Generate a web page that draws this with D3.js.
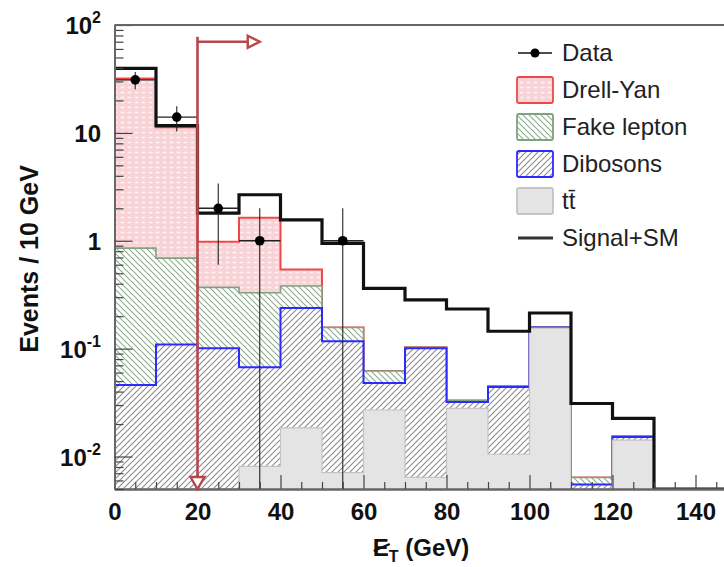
<!DOCTYPE html>
<html><head><meta charset="utf-8">
<script src="https://cdn.jsdelivr.net/npm/d3@7/dist/d3.min.js"></script>
<style>body{margin:0;background:#fff}svg{display:block}</style>
</head><body>
<svg id="chart" width="724" height="567"></svg>
<script>
// ---------------- data (events / 10 GeV) ----------------
const binLow     = [0, 10, 20, 30, 40, 50, 60, 70, 80, 90, 100, 110, 120, 130, 140];
const binWidth   = 10;
const ttbar      = [0, 0, 0, 0.0081, 0.0184, 0.0071, 0.027, 0.0064, 0.028, 0.0105, 0.155, 0, 0.0142, 0, 0];
const dibosons   = [0.046, 0.109, 0.101, 0.059, 0.22, 0.11, 0.021, 0.0946, 0.004, 0.0335, 0.002, 0.0055, 0.001, 0, 0];
const fakeLepton = [0.809, 0.581, 0.269, 0.263, 0.142, 0.04, 0.014, 0.002, 0.001, 0.001, 0.001, 0.0009, 0.0003, 0, 0];
const drellYan   = [31.1, 10.6, 0.61, 1.30, 0.16, 0, 0, 0, 0, 0, 0, 0, 0, 0, 0];
const signal     = [7.7, 0.4, 0.82, 1.04, 1.02, 0.79, 0.30, 0.18, 0.20, 0.10, 0.056, 0.0246, 0.0071, 0, 0];
const dataX      = [5, 15, 25, 35, 55];
const dataY      = [31, 14, 2, 1, 1];
const dataErrLo  = [5.6, 3.7, 1.4, 1, 1];
const dataErrHi  = [5.6, 3.7, 1.4, 1, 1];
const xTicks     = [0, 20, 40, 60, 80, 100, 120, 140];
const yMajor     = [0.01, 0.1, 1, 10, 100];
const legendLabels = ["Data", "Drell-Yan", "Fake lepton", "Dibosons", "tt\u0304", "Signal+SM"];
const cutValue   = 20, cutArrowEnd = 35, cutArrowLevel = 70;

// ---------------- layout ----------------
const svg = d3.select("#chart");
const W = 724, H = 567;
const X0 = 114.5, X1 = 737, Y0 = 489, Y1 = 25;
const yMin = 0.005, yMax = 100;
const x = d3.scaleLinear().domain([0, 150]).range([X0, X1]);
const y = d3.scaleLog().domain([yMin, yMax]).range([Y0, Y1]);
const yv = v => y(Math.max(v, yMin));

svg.append("rect").attr("width", W).attr("height", H).attr("fill", "#fff");

// patterns
const defs = svg.append("defs");
const pDY = defs.append("pattern").attr("id", "pDY").attr("patternUnits", "userSpaceOnUse")
  .attr("width", 7).attr("height", 5);
pDY.append("rect").attr("width", 7).attr("height", 5).attr("fill", "#f8d2d7");
pDY.append("ellipse").attr("cx", 3.5).attr("cy", 2.5).attr("rx", 2.2).attr("ry", 1.1).attr("fill", "#fdf1f2");
const pFake = defs.append("pattern").attr("id", "pFake").attr("patternUnits", "userSpaceOnUse")
  .attr("width", 6).attr("height", 6);
pFake.append("rect").attr("width", 6).attr("height", 6).attr("fill", "#fff");
pFake.append("path").attr("d", "M0,0L6,6M-1,5L1,7M5,-1L7,1").attr("stroke", "#8fab8f").attr("stroke-width", 1.1);
const pDib = defs.append("pattern").attr("id", "pDib").attr("patternUnits", "userSpaceOnUse")
  .attr("width", 6).attr("height", 6);
pDib.append("rect").attr("width", 6).attr("height", 6).attr("fill", "#fff");
pDib.append("path").attr("d", "M0,6L6,0M-1,1L1,-1M5,7L7,5").attr("stroke", "#8c8c8c").attr("stroke-width", 1.1);

defs.append("clipPath").attr("id", "plotClip").append("rect")
  .attr("x", X0).attr("y", Y1).attr("width", X1 - X0).attr("height", Y0 - Y1);

// stack
const rows = binLow.map((b, i) => ({ttbar: ttbar[i], dib: dibosons[i], fake: fakeLepton[i], dy: drellYan[i], sig: signal[i]}));
const stack = d3.stack().keys(["ttbar", "dib", "fake", "dy", "sig"])(rows);
const tops = k => stack[k].map(d => d[1]);

function stepFill(t) {
  let p = `M${x(binLow[0])},${Y0}`;
  t.forEach((v, i) => { p += `L${x(binLow[i])},${yv(v)}L${x(binLow[i] + binWidth)},${yv(v)}`; });
  return p + `L${x(binLow[binLow.length - 1] + binWidth)},${Y0}Z`;
}
function stepLine(t) {
  let p = "";
  t.forEach((v, i) => { p += `${i ? "L" : "M"}${x(binLow[i])},${yv(v)}L${x(binLow[i] + binWidth)},${yv(v)}`; });
  return p + `L${x(binLow[binLow.length - 1] + binWidth)},${Y0}`;
}

const plot = svg.append("g").attr("clip-path", "url(#plotClip)");
const layers = [
  {k: 3, fill: "url(#pDY)",   stroke: "#f04848", sw: 2},
  {k: 2, fill: "url(#pFake)", stroke: "#7fa27f", sw: 1.6},
  {k: 1, fill: "url(#pDib)",  stroke: "#2b2bff", sw: 2},
  {k: 0, fill: "#e4e4e4",     stroke: "#c4c4c4", sw: 1.2},
];
layers.forEach(L => {
  plot.append("path").attr("d", stepFill(tops(L.k))).attr("fill", L.fill).attr("stroke", "none");
  plot.append("path").attr("d", stepLine(tops(L.k))).attr("fill", "none").attr("stroke", L.stroke).attr("stroke-width", L.sw);
});
// Signal + SM
plot.append("path").attr("d", stepLine(tops(4))).attr("fill", "none").attr("stroke", "#111").attr("stroke-width", 3.2);

// Data
const dg = plot.append("g");
dataX.forEach((cx, i) => {
  dg.append("line").attr("x1", x(cx - binWidth / 2)).attr("x2", x(cx + binWidth / 2))
    .attr("y1", y(dataY[i])).attr("y2", y(dataY[i])).attr("stroke", "#222").attr("stroke-width", 1.4);
  dg.append("line").attr("x1", x(cx)).attr("x2", x(cx))
    .attr("y1", yv(dataY[i] - dataErrLo[i])).attr("y2", yv(dataY[i] + dataErrHi[i]))
    .attr("stroke", "#222").attr("stroke-width", 1.1);
  dg.append("circle").attr("cx", x(cx)).attr("cy", y(dataY[i])).attr("r", 4.8).attr("fill", "#000");
});

// Axes
const axisCol = "#666";
const xAxis = d3.axisBottom(x).tickValues(xTicks).tickSize(-14).tickSizeOuter(0).tickPadding(14).tickFormat(d3.format("d"));
const gx = svg.append("g").attr("transform", `translate(0,${Y0})`).call(xAxis);
const xMinor = d3.range(0, 150, 5).filter(v => v % 20 !== 0);
svg.append("g").attr("transform", `translate(0,${Y0})`)
  .call(d3.axisBottom(x).tickValues(xMinor).tickSize(-7).tickSizeOuter(0).tickFormat(""));
const yMinor = [];
[0.001, 0.01, 0.1, 1, 10].forEach(d => { for (let k = 2; k <= 9; k++) { const v = d * k; if (v >= yMin && v <= yMax) yMinor.push(v); } });
svg.append("g").attr("transform", `translate(${X0},0)`)
  .call(d3.axisLeft(y).tickValues(yMinor).tickSize(-9).tickSizeOuter(0).tickFormat(""));
const gy = svg.append("g").attr("transform", `translate(${X0},0)`)
  .call(d3.axisLeft(y).tickValues(yMajor).tickSize(-18).tickSizeOuter(0).tickFormat(""));
svg.selectAll(".domain").attr("stroke", axisCol).attr("stroke-width", 1.8);
svg.selectAll(".tick line").attr("stroke", "#444").attr("stroke-width", 1.2);
gx.selectAll("text").attr("font-family", "Liberation Sans, Arial, sans-serif").attr("font-size", 24)
  .attr("font-weight", "bold").attr("fill", "#111");
// top frame line
svg.append("line").attr("x1", X0).attr("x2", W).attr("y1", Y1).attr("y2", Y1).attr("stroke", axisCol).attr("stroke-width", 1.8);

// y tick labels
const yLab = svg.append("g").attr("font-family", "Liberation Sans, Arial, sans-serif").attr("font-weight", "bold").attr("fill", "#111");
yMajor.forEach(v => {
  const e = Math.round(Math.log10(v));
  const t = yLab.append("text").attr("x", 101).attr("y", y(v) + 9).attr("text-anchor", "end").attr("font-size", 24);
  if (e === 0) t.text("1");
  else if (e === 1) t.text("10");
  else { t.append("tspan").text("10"); t.append("tspan").attr("font-size", 16).attr("dy", -11).text(String(e)); }
});

// axis titles
svg.append("text").attr("transform", `translate(38,${(Y0 + Y1) / 2 + 2}) rotate(-90)`).attr("text-anchor", "middle")
  .attr("font-family", "Liberation Sans, Arial, sans-serif").attr("font-size", 25).attr("font-weight", "bold").attr("fill", "#111")
  .text("Events / 10 GeV");
const xt = svg.append("text").attr("x", 421).attr("y", 556).attr("text-anchor", "middle")
  .attr("font-family", "Liberation Sans, Arial, sans-serif").attr("font-size", 24).attr("font-weight", "bold").attr("fill", "#111");
xt.append("tspan").text("E");
xt.append("tspan").attr("font-size", 16).attr("dy", 6).text("T");
xt.append("tspan").attr("dy", -6).text(" (GeV)");
try {
  const s = xt.node().getStartPositionOfChar(0), en = xt.node().getEndPositionOfChar(0);
  svg.append("line").attr("x1", s.x + 1).attr("x2", en.x + 1).attr("y1", 556 - 5).attr("y2", 556 - 12)
    .attr("stroke", "#111").attr("stroke-width", 2.2);
} catch (err) {}

// cut arrow
const ac = "#b5484b";
const ax = x(cutValue), ay = y(cutArrowLevel), aex = x(cutArrowEnd);
svg.append("path").attr("d", `M${ax},${Y0 - 12}L${ax},${ay - 5}M${ax},${ay}L${aex - 12},${ay}`)
  .attr("fill", "none").attr("stroke", ac).attr("stroke-width", 2.6);
svg.append("path").attr("d", `M${aex - 12},${ay - 6}L${aex},${ay}L${aex - 12},${ay + 6}Z`)
  .attr("fill", "#fff").attr("stroke", ac).attr("stroke-width", 2.4);
svg.append("path").attr("d", `M${ax - 7},${Y0 - 12}L${ax + 7},${Y0 - 12}L${ax},${Y0}Z`)
  .attr("fill", "#fff").attr("stroke", ac).attr("stroke-width", 2.4);

// legend
const lg = svg.append("g").attr("font-family", "Liberation Sans, Arial, sans-serif").attr("font-size", 24).attr("fill", "#222");
const legY = [53, 90, 127, 164, 201, 238];
const lx0 = 517, lx1 = 553;
legendLabels.forEach((lab, i) => {
  const cy = legY[i];
  if (i === 0) {
    lg.append("line").attr("x1", lx0 + 1).attr("x2", lx1 - 1).attr("y1", cy).attr("y2", cy).attr("stroke", "#111").attr("stroke-width", 1.3);
    lg.append("circle").attr("cx", (lx0 + lx1) / 2).attr("cy", cy).attr("r", 4.5).attr("fill", "#000");
  } else if (i === 5) {
    lg.append("line").attr("x1", lx0 + 1).attr("x2", lx1).attr("y1", cy).attr("y2", cy).attr("stroke", "#333").attr("stroke-width", 3);
  } else {
    const st = [null, layers[0], layers[1], layers[2], layers[3]][i];
    lg.append("rect").attr("x", lx0).attr("y", cy - 13).attr("width", lx1 - lx0).attr("height", 26)
      .attr("rx", 2).attr("fill", st.fill).attr("stroke", st.stroke).attr("stroke-width", 1.8);
  }
  lg.append("text").attr("x", 562).attr("y", cy + 8).text(lab);
});
</script>
</body></html>
